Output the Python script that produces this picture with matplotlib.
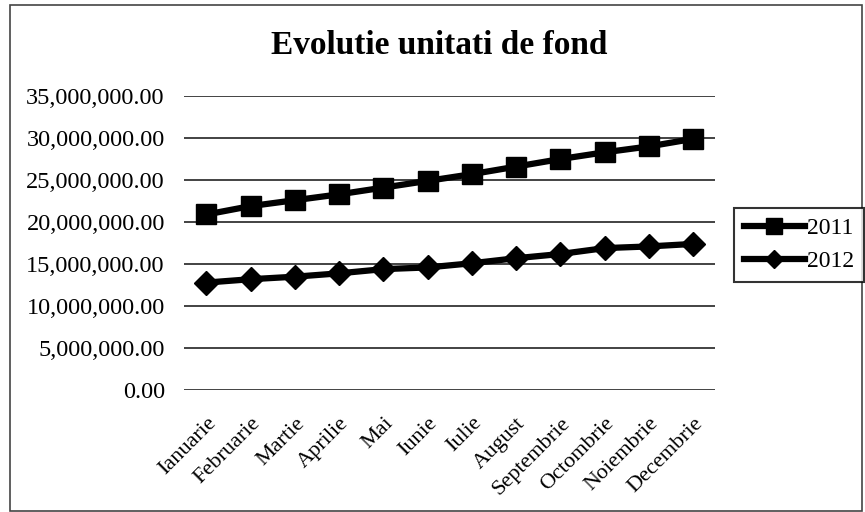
import matplotlib.pyplot as plt
from matplotlib.ticker import FuncFormatter
from matplotlib.patches import Rectangle

luni = ['Ianuarie', 'Februarie', 'Martie', 'Aprilie', 'Mai', 'Iunie', 'Iulie',
        'August', 'Septembrie', 'Octombrie', 'Noiembrie', 'Decembrie']
val_2011 = [20.9e6, 21.9e6, 22.6e6, 23.3e6, 24.1e6, 24.9e6, 25.7e6,
            26.6e6, 27.5e6, 28.3e6, 29.0e6, 29.9e6]
val_2012 = [12.8e6, 13.2e6, 13.5e6, 13.9e6, 14.4e6, 14.6e6, 15.1e6,
            15.7e6, 16.2e6, 16.9e6, 17.1e6, 17.4e6]
yticks = [0, 5e6, 10e6, 15e6, 20e6, 25e6, 30e6, 35e6]

plt.rcParams['font.family'] = ['Liberation Serif', 'DejaVu Serif']

fig = plt.figure(figsize=(8.65, 5.12), dpi=100)
ax = fig.add_axes([0.213, 0.238, 0.614, 0.5745])

x = range(len(luni))
ax.plot(x, val_2011, color='black', lw=4.5, marker='s', ms=15, label='2011')
ax.plot(x, val_2012, color='black', lw=4.5, marker='D', ms=12, label='2012')

ax.set_xlim(-0.5, len(luni) - 0.5)
ax.set_ylim(0, 35e6)
ax.set_yticks(yticks)
ax.yaxis.set_major_formatter(FuncFormatter(lambda v, p: f'{v:,.2f}'))
ax.set_xticks(list(x))
ax.set_xticklabels(luni, rotation=45, ha='right', rotation_mode='anchor')
ax.tick_params(axis='x', length=0, labelsize=16, pad=17)
ax.tick_params(axis='y', length=0, labelsize=17.5, pad=14)
ax.grid(axis='y', color='#222222', lw=1.2)
ax.set_axisbelow(True)
for s in ax.spines.values():
    s.set_visible(False)

fig.text(0.508, 0.912, 'Evolutie unitati de fond', ha='center', va='center',
         fontsize=24, fontweight='bold')

leg = fig.legend(loc='center left', bbox_to_anchor=(0.835, 0.522), fontsize=17,
                 frameon=True, fancybox=False, edgecolor='black',
                 handlelength=2.6, borderpad=0.4, labelspacing=0.5,
                 handletextpad=0.1, markerscale=0.75)
leg.get_frame().set_linewidth(1.5)

fig.patches.append(Rectangle((0.011, 0.002), 0.986, 0.988, transform=fig.transFigure,
                             fill=False, edgecolor='#444444', lw=1.2))

fig.savefig('out.png', dpi=100)
